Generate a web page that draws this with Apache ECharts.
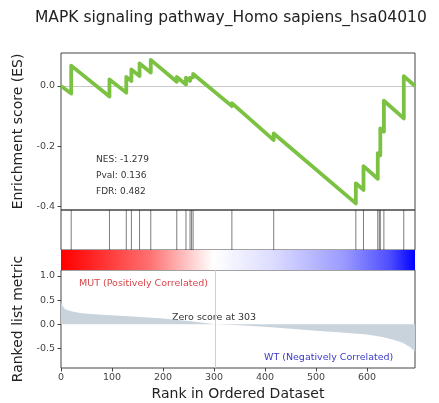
<!DOCTYPE html>
<html>
<head>
<meta charset="utf-8">
<script src="https://cdn.jsdelivr.net/npm/echarts@6/dist/echarts.min.js"></script>
<style>
  html, body { margin: 0; padding: 0; background: #fff; }
  #main { width: 439px; height: 403px; }
</style>
</head>
<body>
<div id="main"></div>
<script>
// running enrichment score, vertices (rank, ES)
var esRanks = [0, 20, 20, 95, 95, 128, 128, 138, 138, 154, 154, 176, 176, 227, 227, 245, 245,
    253, 253, 256, 256, 259, 259, 335, 335, 417, 417, 578, 578, 593, 593, 621, 621, 626, 626,
    633, 633, 672, 672, 694];
var esValues = [0, -0.025, 0.068, -0.035, 0.022, -0.022, 0.03, 0.017, 0.055, 0.033, 0.075, 0.045, 0.087,
    0.014, 0.03, 0.005, 0.028, 0.017, 0.027, 0.023, 0.033, 0.029, 0.04, -0.067, -0.057, -0.18, -0.158,
    -0.391, -0.324, -0.346, -0.267, -0.309, -0.224, -0.231, -0.141, -0.152, -0.049, -0.108, 0.033, 0.0];

// gene set hits (rank positions)
var hitRanks = [20, 95, 128, 138, 154, 176, 227, 245, 253, 256, 259, 335, 417, 578, 593, 621, 624, 626, 633, 672];

// ranked list metric
var metricRanks = [0, 3, 8, 20, 40, 80, 140, 200, 250, 303, 350, 400, 450, 500, 550, 600, 630, 650, 670, 685, 694];
var metricValues = [0.47, 0.38, 0.31, 0.27, 0.23, 0.2, 0.16, 0.12, 0.07, 0.0, -0.02, -0.05, -0.09, -0.13,
    -0.17, -0.21, -0.26, -0.31, -0.38, -0.47, -0.56];

var xTicks = [0, 100, 200, 300, 400, 500, 600];
var esTicks = [-0.4, -0.2, 0.0];
var metricTicks = [-0.5, 0.0, 0.5, 1.0];
var nMax = 694;
var zeroRank = 303;

var stats = ['NES: -1.279', 'Pval: 0.136', 'FDR: 0.482'];
var titleText = 'MAPK signaling pathway_Homo sapiens_hsa04010';

var font = 'DejaVu Sans';
var frame = '#444';

function pairs(xs, ys) {
    var out = [];
    for (var i = 0; i < xs.length; i++) out.push([xs[i], ys[i]]);
    return out;
}

var chart = echarts.init(document.getElementById('main'), null, {renderer: 'canvas'});

var hiddenX = function (idx) {
    return {
        type: 'value', gridIndex: idx, min: 0, max: nMax,
        axisLine: {show: false, onZero: false}, axisTick: {show: false}, axisLabel: {show: false}, splitLine: {show: false}
    };
};
var hiddenY = function (idx, mn, mx) {
    return {
        type: 'value', gridIndex: idx, min: mn, max: mx,
        axisLine: {show: false, onZero: false}, axisTick: {show: false}, axisLabel: {show: false}, splitLine: {show: false}
    };
};

var option = {
    animation: false,
    backgroundColor: '#fff',
    textStyle: {fontFamily: font},
    grid: [
        {left: 61, right: 24, top: 53, height: 157, show: true, borderColor: frame, borderWidth: 1},
        {left: 61, right: 24, top: 210, height: 40, show: true, borderColor: frame, borderWidth: 1},
        {left: 61, right: 24, top: 250, height: 20, show: false},
        {left: 61, right: 24, top: 270, height: 98, show: true, borderColor: frame, borderWidth: 1}
    ],
    xAxis: [
        hiddenX(0),
        hiddenX(1),
        hiddenX(2),
        {
            type: 'value', gridIndex: 3, min: 0, max: nMax,
            name: 'Rank in Ordered Dataset', nameLocation: 'middle', nameGap: 19,
            nameTextStyle: {fontSize: 14, color: '#222', fontFamily: font},
            axisLine: {show: false, onZero: false},
            axisTick: {show: true, length: 3.5, customValues: xTicks, lineStyle: {color: frame}},
            axisLabel: {customValues: xTicks, fontSize: 9.5, color: '#444', margin: 5, fontFamily: font},
            splitLine: {show: false}
        }
    ],
    yAxis: [
        {
            type: 'value', gridIndex: 0, min: -0.413, max: 0.11,
            name: 'Enrichment score (ES)', nameLocation: 'middle', nameGap: 31,
            nameTextStyle: {fontSize: 14, color: '#222', fontFamily: font},
            axisLine: {show: false, onZero: false},
            axisTick: {show: true, length: 3.5, customValues: esTicks, lineStyle: {color: frame}},
            axisLabel: {
                customValues: esTicks, fontSize: 9.5, color: '#444', margin: 6, fontFamily: font,
                formatter: function (v) { return v.toFixed(1); }
            },
            splitLine: {show: false}
        },
        hiddenY(1, 0, 1),
        hiddenY(2, 0, 1),
        {
            type: 'value', gridIndex: 3, min: -0.9, max: 1.12,
            name: 'Ranked list metric', nameLocation: 'middle', nameGap: 31,
            nameTextStyle: {fontSize: 14, color: '#222', fontFamily: font},
            axisLine: {show: false, onZero: false},
            axisTick: {show: true, length: 3.5, customValues: metricTicks, lineStyle: {color: frame}},
            axisLabel: {
                customValues: metricTicks, fontSize: 9.5, color: '#444', margin: 6, fontFamily: font,
                formatter: function (v) { return v.toFixed(1); }
            },
            splitLine: {show: false}
        }
    ],
    series: [
        {
            type: 'line', xAxisIndex: 0, yAxisIndex: 0,
            data: pairs(esRanks, esValues),
            showSymbol: false, symbol: 'none',
            lineStyle: {color: '#7cc242', width: 3.8, join: 'round'},
            markLine: {
                silent: true, symbol: 'none', label: {show: false},
                lineStyle: {color: '#c8c8c8', width: 1, type: 'solid'},
                data: [{yAxis: 0}]
            },
            z: 5
        },
        {
            type: 'custom', xAxisIndex: 1, yAxisIndex: 1,
            data: hitRanks.map(function (r) { return [r]; }),
            renderItem: function (params, api) {
                var top = api.coord([api.value(0), 1]);
                var bot = api.coord([api.value(0), 0]);
                return {
                    type: 'line',
                    shape: {x1: top[0], y1: top[1], x2: bot[0], y2: bot[1]},
                    style: {stroke: '#222', lineWidth: 0.7, opacity: 0.85}
                };
            }
        },
        {
            type: 'line', xAxisIndex: 2, yAxisIndex: 2,
            data: [[0, 1], [nMax, 1]],
            showSymbol: false, symbol: 'none',
            lineStyle: {width: 0},
            areaStyle: {
                origin: 'start', opacity: 1,
                color: {
                    type: 'linear', x: 0, y: 0, x2: 1, y2: 0,
                    colorStops: [
                        {offset: 0, color: '#ff0000'},
                        {offset: 0.07, color: '#ff1c1c'},
                        {offset: 0.25, color: '#ff7070'},
                        {offset: 0.43, color: '#ffffff'},
                        {offset: 0.6, color: '#dcdcff'},
                        {offset: 0.8, color: '#9a9aff'},
                        {offset: 0.93, color: '#4d4dff'},
                        {offset: 1, color: '#0000ff'}
                    ]
                }
            }
        },
        {
            type: 'line', xAxisIndex: 3, yAxisIndex: 3,
            data: pairs(metricRanks, metricValues),
            showSymbol: false, symbol: 'none',
            lineStyle: {width: 0},
            areaStyle: {color: '#c9d3dc', opacity: 1},
            markLine: {
                silent: true, symbol: 'none', label: {show: false},
                lineStyle: {color: '#cfcfcf', width: 1, type: 'solid'},
                data: [{xAxis: zeroRank}]
            }
        }
    ],
    graphic: [
        {
            type: 'text', left: 35, top: 10,
            style: {text: titleText, font: '15.5px DejaVu Sans', fill: '#222'}
        },
        {
            type: 'group', left: 96, top: 155,
            children: stats.map(function (s, i) {
                return {type: 'text', x: 0, y: i * 16, style: {text: s, font: '9px DejaVu Sans', fill: '#333'}};
            })
        },
        {
            type: 'text', left: 79, top: 279,
            style: {text: 'MUT (Positively Correlated)', font: '9.5px DejaVu Sans', fill: '#d8454a'}
        },
        {
            type: 'text', left: 172, top: 313,
            style: {text: 'Zero score at ' + zeroRank, font: '9.5px DejaVu Sans', fill: '#333'}
        },
        {
            type: 'text', left: 264, top: 353,
            style: {text: 'WT (Negatively Correlated)', font: '9.5px DejaVu Sans', fill: '#3a3ac8'}
        }
    ]
};

chart.setOption(option);
</script>
</body>
</html>
